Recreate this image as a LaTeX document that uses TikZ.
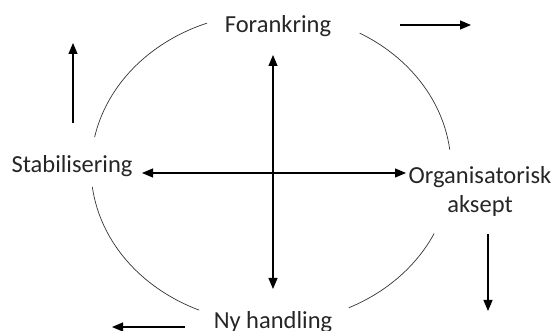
\documentclass[tikz,border=0pt]{standalone}
\usepackage{fontspec}
\setmainfont{Carlito}
\usetikzlibrary{arrows.meta}
\tikzset{
  lbl/.style={inner sep=0pt, text=black!85, font=\fontsize{24.5}{29}\selectfont},
  arc/.style={line width=0.7pt, black!80},
  arr/.style={line width=1.2pt, -{Triangle[length=11pt,width=9pt]}},
  darr/.style={line width=1.2pt, {Triangle[length=11pt,width=9pt]}-{Triangle[length=11pt,width=9pt]}}
}
\begin{document}
\begin{tikzpicture}[x=1pt,y=-1pt]
\useasboundingbox (0,0) rectangle (555,331);
% ellipse arcs
\draw[arc] plot[domain=110.8:168.5, samples=60, smooth] ({271+180*cos(\x)}, {168-155*sin(\x)});
\draw[arc] plot[domain=6.8:60.5, samples=60, smooth] ({271+180*cos(\x)}, {168-155*sin(\x)});
\draw[arc] plot[domain=-64.4:-25, samples=60, smooth] ({271+180*cos(\x)}, {168-155*sin(\x)});
\draw[arc] plot[domain=187:246.5, samples=60, smooth] ({271+180*cos(\x)}, {168-155*sin(\x)});
% labels
\node[lbl] (for) at (278,26) {Forankring};
\node[lbl] (stab) at (72,166) {Stabilisering};
\node[lbl, align=center] (org) at (480,191) {Organisatorisk\\aksept};
\node[lbl] (ny) at (273,322) {Ny handling};
% cross arrows
\coordinate (vt) at (273,55);
\coordinate (vb) at (273,289);
\coordinate (hl) at (142,173);
\coordinate (hr) at (406,173);
\draw[darr] (vt) -- (vb);
\draw[darr] (hl) -- (hr);
% outside arrows
\coordinate (a1s) at (400,25);
\coordinate (a1e) at (471,25);
\draw[arr] (a1s) -- (a1e);
\coordinate (a2s) at (73,123);
\coordinate (a2e) at (73,43);
\draw[arr] (a2s) -- (a2e);
\coordinate (a3s) at (488,234);
\coordinate (a3e) at (488,311);
\draw[arr] (a3s) -- (a3e);
\coordinate (a4s) at (185,327);
\coordinate (a4e) at (112,327);
\draw[arr] (a4s) -- (a4e);
\end{tikzpicture}
\end{document}
